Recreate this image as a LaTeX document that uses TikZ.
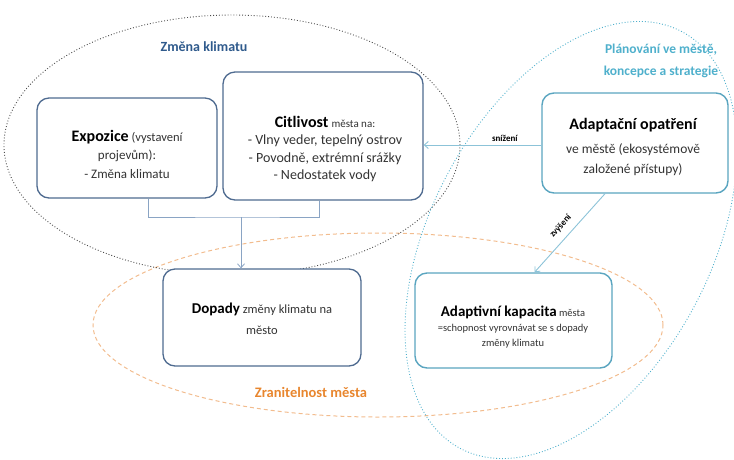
\documentclass[tikz,border=0pt]{standalone}
\usepackage{fontspec}
\setmainfont{Carlito}
\usetikzlibrary{calc,arrows.meta}
\definecolor{boxblue}{HTML}{4F6B90}
\definecolor{boxteal}{HTML}{5AA5C0}
\definecolor{treeline}{HTML}{8AA4C4}
\definecolor{tealline}{HTML}{8CC3D8}
\definecolor{titleblue}{HTML}{2F5A8C}
\definecolor{titleteal}{HTML}{4FB0CC}
\definecolor{orangetxt}{HTML}{E8862E}
\definecolor{orangeline}{HTML}{F2BC8E}
\definecolor{bodytxt}{HTML}{333333}
\newcommand\bodyfont[1]{\fontsize{#1}{#1}\selectfont}
\begin{document}
\begin{tikzpicture}[x=1pt,y=-1pt,
  cardblue/.style={draw=boxblue,line width=1.3pt,rounded corners=12pt,fill=white,inner sep=0pt},
  cardteal/.style={draw=boxteal,line width=1.4pt,rounded corners=12pt,fill=white,inner sep=0pt},
  cardtext/.style={align=center,inner sep=0pt,text=bodytxt},
  treeconn/.style={draw=treeline,line width=0.8pt},
  tealconn/.style={draw=tealline,line width=0.9pt},
  tip/.style={-{Straight Barb[length=4pt,width=7pt]}},
  smalllabel/.style={font=\bfseries\bodyfont{9},text=black,inner sep=1pt}
]
\useasboundingbox (0,0) rectangle (734,459);
% ellipses
\draw[orangeline,line width=1pt,dash pattern=on 4pt off 3pt] (378,325) ellipse [x radius=285pt, y radius=92pt];
\draw[black!70,line width=0.9pt,dotted] (232,145) ellipse [x radius=228pt, y radius=130pt];
\draw[titleteal,line width=0.9pt,dotted,rotate around={62:(571,240)}] (571,240) ellipse [x radius=236pt, y radius=140pt];
% titles
\node[font=\bfseries\bodyfont{14},text=titleblue] (tz) at (204,47) {Změna klimatu};
\node[font=\bfseries\bodyfont{13.5},text=titleteal,align=center] (tp) at (661,61) {Plánování ve městě,\\[8.5pt]koncepce a strategie};
\node[font=\bfseries\bodyfont{14.5},text=orangetxt] (tr) at (311,392) {Zranitelnost města};
% boxes
\node[cardblue,minimum width=180pt,minimum height=100pt] (expo) at (127,148) {};
\node[cardblue,minimum width=200pt,minimum height=128pt] (citl) at (323,136) {};
\node[cardblue,minimum width=198pt,minimum height=97pt] (dop) at (262,317.5) {};
\node[cardteal,minimum width=186pt,minimum height=100pt] (adapt) at (635,143) {};
\node[cardteal,minimum width=197pt,minimum height=95pt] (kap) at (513.5,320.5) {};
% box texts
\node[cardtext,font=\bodyfont{13}] (expot) at (127,154)
  {{\color{black}\bfseries\bodyfont{16}Expozice} {\bodyfont{12.5}(vystavení}\\[5.5pt]projevům):\\[5.5pt]- Změna klimatu};
\node[cardtext,font=\bodyfont{14}] (citlt) at (325,149)
  {{\color{black}\bfseries\bodyfont{16}Citlivost} {\bodyfont{11}města na:}\\[3.5pt]- Vlny veder, tepelný ostrov\\[3.5pt]- Povodně, extrémní srážky\\[3.5pt]- Nedostatek vody};
\node[cardtext,font=\bodyfont{12.5}] (dopt) at (262,319)
  {{\color{black}\bfseries\bodyfont{15}Dopady} změny klimatu na\\[8pt]město};
\node[cardtext,font=\bodyfont{13.5}] (adaptt) at (633,147)
  {{\color{black}\bfseries\bodyfont{16}Adaptační opatření}\\[10pt]ve městě (ekosystémově\\[7pt]založené přístupy)};
\node[cardtext,font=\bodyfont{10.5}] (kapt) at (513,327)
  {{\color{black}\bfseries\bodyfont{15}Adaptivní kapacita} města\\[4pt]=schopnost vyrovnávat se s dopady\\[4.5pt]změny klimatu};
% connectors
\coordinate (j) at (241,217);
\draw[treeconn] ($(expo.south)+(21,0)$) |- (j) -| ($(citl.south)+(-4,0)$);
\draw[treeconn,tip] (j) -- (dop.north -| j);
\draw[tealconn,tip] ($(adapt.west)+(0,2)$) -- ($(adapt.west -| citl.east)+(0,2)$)
  node[smalllabel,pos=0.31,above=2pt] (lsn) {snížení};
\draw[tealconn,tip] ($(adapt.south)+(-30,0)$) -- ($(kap.north)+(21,0)$)
  node[smalllabel,pos=0.51,sloped,above=6pt] (lzv) {zvýšení};
\end{tikzpicture}
\end{document}
